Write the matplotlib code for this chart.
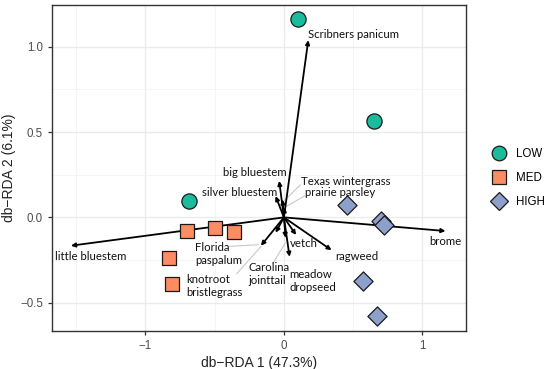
import matplotlib
matplotlib.use("Agg")
import matplotlib.pyplot as plt
from matplotlib.lines import Line2D

# ---- data ----
groups = ["LOW", "MED", "HIGH"]
low_x = [0.103, 0.652, -0.686]
low_y = [1.162, 0.564, 0.097]
med_x = [-0.698, -0.498, -0.359, -0.828, -0.811]
med_y = [-0.080, -0.064, -0.088, -0.240, -0.392]
high_x = [0.457, 0.700, 0.720, 0.573, 0.674]
high_y = [0.072, -0.020, -0.045, -0.373, -0.576]

species = ["Scribners panicum", "little bluestem", "brome", "big bluestem",
           "silver bluestem", "Texas wintergrass", "prairie parsley",
           "Florida\npaspalum", "knotroot\nbristlegrass", "Carolina\njointtail",
           "meadow\ndropseed", "vetch", "ragweed"]
arrow_x = [0.176, -1.538, 1.167, -0.034, -0.060, -0.010, 0.005,
           -0.166, -0.060, 0.012, 0.041, 0.088, 0.344]
arrow_y = [1.039, -0.166, -0.080, 0.214, 0.125, 0.105, 0.060,
           -0.166, -0.090, -0.120, -0.231, -0.103, -0.192]

x_ticks = [-1, 0, 1]
y_ticks = [-0.5, 0.0, 0.5, 1.0]

# ---- layout (label positions, left-aligned text, and optional leader endpoints) ----
label_pos = {
    "Scribners panicum": (0.173, 1.074, None),
    "little bluestem": (-1.650, -0.231, None),
    "brome": (1.050, -0.139, None),
    "big bluestem": (-0.440, 0.261, None),
    "silver bluestem": (-0.590, 0.144, None),
    "Texas wintergrass": (0.120, 0.209, (0.118, 0.19, 0.005, 0.10)),
    "prairie parsley": (0.152, 0.144, (0.148, 0.125, 0.012, 0.062)),
    "Florida\npaspalum": (-0.643, -0.214, (-0.390, -0.170, -0.185, -0.160)),
    "knotroot\nbristlegrass": (-0.703, -0.401, (-0.340, -0.330, -0.165, -0.170)),
    "Carolina\njointtail": (-0.258, -0.331, (-0.080, -0.270, 0.010, -0.150)),
    "meadow\ndropseed": (0.038, -0.375, None),
    "vetch": (0.043, -0.152, None),
    "ragweed": (0.368, -0.227, None),
}

colors = {"LOW": "#1ABC9C", "MED": "#FC8D62", "HIGH": "#8DA0CB"}
markers = {"LOW": "o", "MED": "s", "HIGH": "D"}
sizes = {"LOW": 120, "MED": 115, "HIGH": 95}

fig = plt.figure(figsize=(5.5, 3.69), dpi=100)
ax = fig.add_axes([0.0945, 0.103, 0.7525, 0.883])

ax.set_xlim(-1.675, 1.314)
ax.set_ylim(-0.666, 1.244)
ax.set_xticks(x_ticks)
ax.set_yticks(y_ticks)
ax.set_xticks([-1.5, -0.5, 0.5], minor=True)
ax.set_yticks([-0.25, 0.25, 0.75], minor=True)
ax.set_xticklabels(["\u22121", "0", "1"])
ax.set_yticklabels(["\u22120.5", "0.0", "0.5", "1.0"])
ax.grid(True, which="major", color="#EBEBEB", linewidth=1.0, zorder=0)
ax.grid(True, which="minor", color="#F4F4F4", linewidth=0.6, zorder=0)
ax.set_axisbelow(True)
for s in ax.spines.values():
    s.set_color("#333333")
    s.set_linewidth(1.0)
ax.tick_params(which="major", length=3, color="#333333", labelsize=8.3,
               labelcolor="#4D4D4D", width=0.9)
ax.tick_params(which="minor", length=0)
for lab in ax.get_xticklabels() + ax.get_yticklabels():
    lab.set_family("Liberation Sans")

ax.set_xlabel("db\u2212RDA 1 (47.3%)", fontsize=10, family="Liberation Sans",
              color="#222222", labelpad=3)
ax.set_ylabel("db\u2212RDA 2 (6.1%)", fontsize=10, family="Liberation Sans",
              color="#222222", labelpad=3)

# leader lines
for sp in species:
    lx, ly, lead = label_pos[sp]
    if lead is not None:
        ax.plot([lead[0], lead[2]], [lead[1], lead[3]], color="#C8C8C8",
                linewidth=0.8, zorder=1)

# arrows
for sp, ex, ey in zip(species, arrow_x, arrow_y):
    ax.annotate("", xy=(ex, ey), xytext=(0, 0),
                arrowprops=dict(arrowstyle="-|>", color="black", lw=1.3,
                                mutation_scale=6, shrinkA=0, shrinkB=0),
                zorder=3)

# labels
for sp in species:
    lx, ly, lead = label_pos[sp]
    ax.text(lx, ly, sp, ha="left", va="center", fontsize=8.2,
            family="Lato", color="#111111", linespacing=1.22, zorder=4)

# points
for g, xs, ys in [("LOW", low_x, low_y), ("MED", med_x, med_y),
                  ("HIGH", high_x, high_y)]:
    ax.scatter(xs, ys, s=sizes[g], marker=markers[g], c=colors[g],
               edgecolors="#1a1a1a", linewidths=0.9, zorder=5)

handles = [Line2D([0], [0], marker=markers[g], color="none",
                  markerfacecolor=colors[g], markeredgecolor="#1a1a1a",
                  markeredgewidth=0.9, markersize=10.5 if g != "HIGH" else 9.5,
                  label=g) for g in groups]
leg = fig.legend(handles=handles, loc="center left",
                 bbox_to_anchor=(0.875, 0.517), frameon=False,
                 prop={"family": "Liberation Sans", "size": 8.3},
                 handletextpad=0.9, labelspacing=1.05, handlelength=1.2)

fig.savefig("out.png", dpi=100)
